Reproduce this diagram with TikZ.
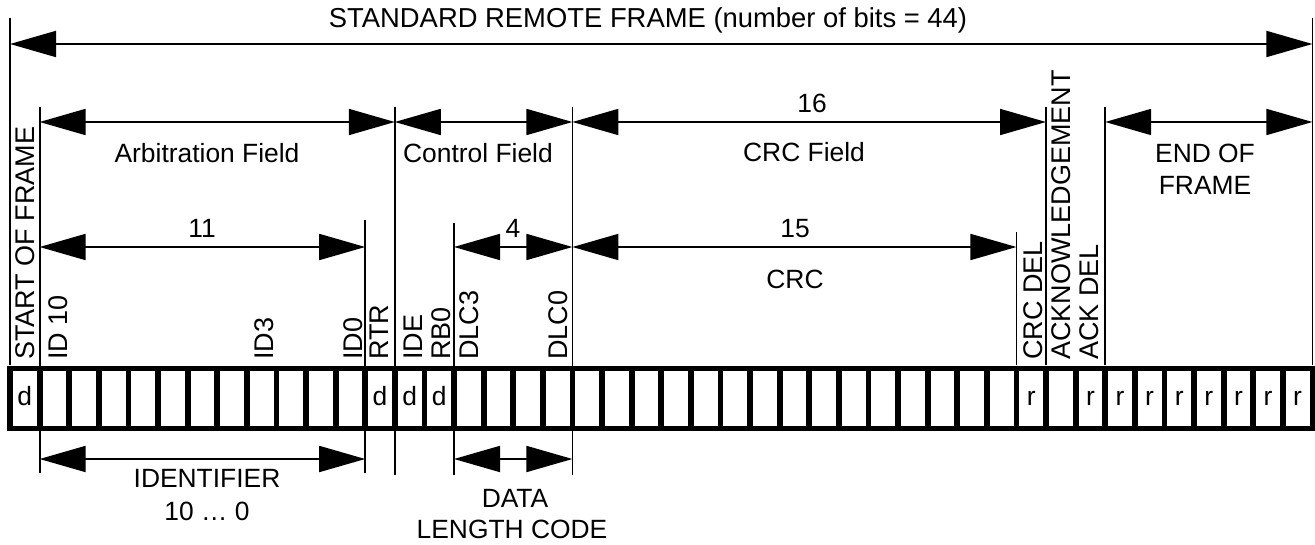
\documentclass[tikz,border=0pt]{standalone}
\usepackage{fontspec}
\setmainfont{Liberation Sans}
\usetikzlibrary{arrows.meta}
\begin{document}
\begin{tikzpicture}[x=0.5pt,y=-0.5pt,
  lbl/.style={font=\fontsize{13.2}{15.8}\selectfont, inner sep=0pt, anchor=base},
  vlbl/.style={font=\fontsize{13.5}{16}\selectfont, inner sep=0pt, rotate=90, anchor=base west},
  guide/.style={line width=0.9pt},
  dimarrow/.style={line width=0.9pt, {Triangle[length=23pt,width=13pt]}-{Triangle[length=23pt,width=13pt]}},
  bitcell/.style={draw, fill=white, line width=2.9pt, minimum width=14.8pt, minimum height=30pt, inner sep=0pt, outer sep=0pt},
]
\useasboundingbox (0,0) rectangle (1315,545);

% bit boundaries
\foreach \i in {0,...,44} { \coordinate (g\i) at ({10+29.6*\i},0); }

% guide lines
\draw[guide] (g0 |- 0,18) -- (g0 |- 0,365);
\draw[guide] (g1 |- 0,107) -- (g1 |- 0,473);
\draw[guide] (g12 |- 0,220) -- (g12 |- 0,473);
\draw[guide] (g13 |- 0,107) -- (g13 |- 0,475);
\draw[guide] (g15 |- 0,223) -- (g15 |- 0,475);
\draw[guide] (g19 |- 0,107) -- (g19 |- 0,475);
\draw[guide] (g34 |- 0,232) -- (g34 |- 0,365);
\draw[guide] (g35 |- 0,107) -- (g35 |- 0,365);
\draw[guide] (g37 |- 0,107) -- (g37 |- 0,365);
\draw[guide] (g44 |- 0,18) -- (g44 |- 0,365);

% bit cells
\foreach \i in {0,...,43} { \node[bitcell] (b\i) at ({24.8+29.6*\i},398.5) {}; }
\foreach \i/\t in {0/d,12/d,13/d,14/d,34/r,36/r,37/r,38/r,39/r,40/r,41/r,42/r,43/r}
  { \node[lbl] (t\i) at (b\i |- 0,405) {\t}; }

% dimension arrows
\draw[dimarrow] (g0 |- 0,44) -- (g44 |- 0,44);
\draw[dimarrow] (g1 |- 0,122) -- (g13 |- 0,122);
\draw[dimarrow] (g13 |- 0,122) -- (g19 |- 0,122);
\draw[dimarrow] (g19 |- 0,122) -- (g35 |- 0,122);
\draw[dimarrow] (g37 |- 0,122) -- (g44 |- 0,122);
\draw[dimarrow] (g1 |- 0,247) -- (g12 |- 0,247);
\draw[dimarrow] (g15 |- 0,247) -- (g19 |- 0,247);
\draw[dimarrow] (g19 |- 0,247) -- (g34 |- 0,247);
\draw[dimarrow] (g1 |- 0,459) -- (g12 |- 0,459);
\draw[dimarrow] (g15 |- 0,459) -- (g19 |- 0,459);

% horizontal labels
\node[lbl, font=\fontsize{13.7}{16}\selectfont] (title) at (648,28) {STANDARD REMOTE FRAME (number of bits = 44)};
\node[lbl] (arb) at (207,163) {Arbitration Field};
\node[lbl] (ctl) at (478,163) {Control Field};
\node[lbl] (crcf) at (804,162) {CRC Field};
\node[lbl] (eofa) at (1205,163) {END OF};
\node[lbl] (eofb) at (1205,195) {FRAME};
\node[lbl] (n16) at (812,113) {16};
\node[lbl] (n11) at (202,237) {11};
\node[lbl] (n4) at (513,237) {4};
\node[lbl] (n15) at (795,237) {15};
\node[lbl] (crc) at (795,288) {CRC};
\node[lbl] (ident) at (207,487) {IDENTIFIER};
\node[lbl] (range) at (207,520) {10 … 0};
\node[lbl] (data) at (515,507) {DATA};
\node[lbl] (dlc) at (512,538) {LENGTH CODE};

% vertical labels
\foreach \x/\n/\t in {34/sof/START OF FRAME, 67/idten/ID 10, 273/idthree/ID3, 362/idzero/ID0,
  388/rtr/RTR, 422/ide/IDE, 450/rbz/RB0, 478/dlcthree/DLC3, 567/dlczero/DLC0,
  1042/crcdel/CRC DEL, 1070/ack/ACKNOWLEDGEMENT, 1098/ackdel/ACK DEL}
  { \node[vlbl] (v\n) at (\x,360) {\t}; }
\end{tikzpicture}
\end{document}
